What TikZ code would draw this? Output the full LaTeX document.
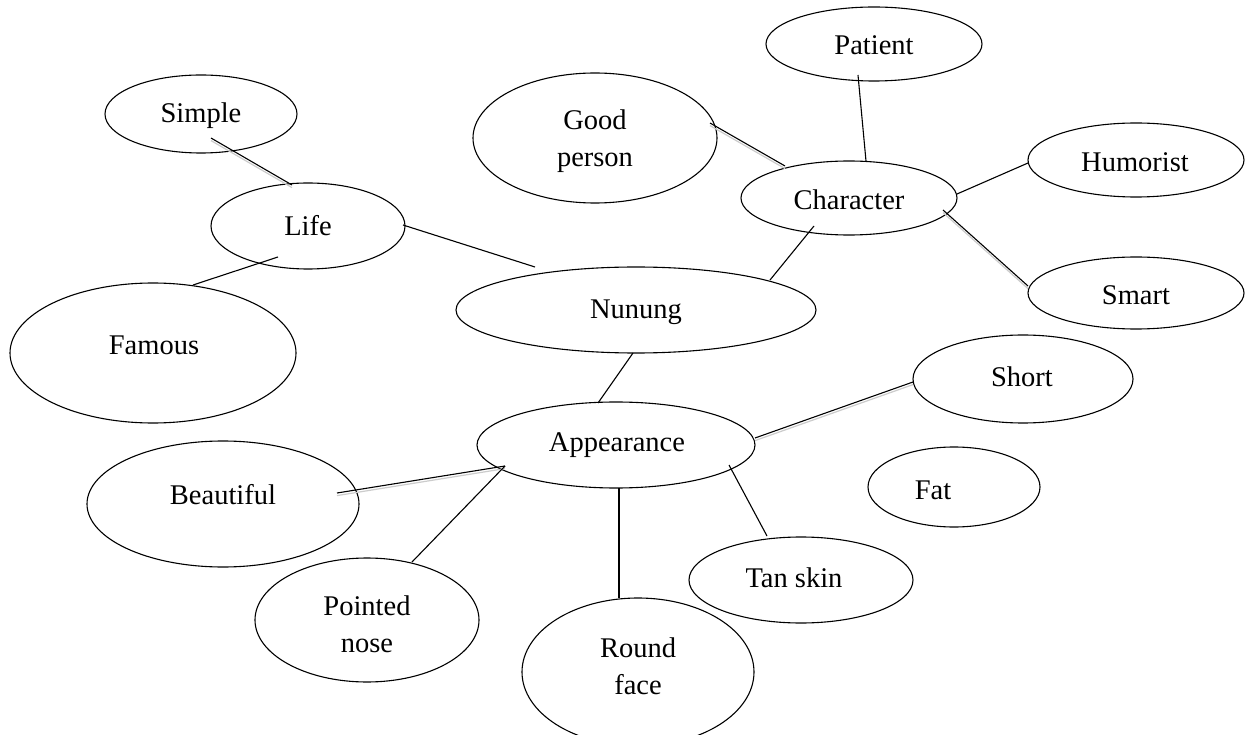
\documentclass[tikz,border=0pt]{standalone}
\usepackage{fontspec}
\setmainfont{Liberation Serif}
\usetikzlibrary{shapes.geometric,calc}
\tikzset{
  bub/.style 2 args={draw, ellipse, line width=1.1pt, minimum width=#1, minimum height=#2, inner sep=0pt},
  txt/.style={font=\fontsize{28.5}{37}\selectfont, align=center, inner sep=0pt},
  link/.style={draw, line width=1.1pt},
  shadowed/.style={link, preaction={draw=gray!40, line width=1.2pt, transform canvas={yshift=-2.6pt}}}
}
\begin{document}
\begin{tikzpicture}[x=1pt, y=-1pt]
\fill[white] (0,0) rectangle (1259,735);
\useasboundingbox (0,0) rectangle (1259,735);

% bubbles
\node[bub={192pt}{78pt}]  (simple)     at (201,114) {};
\node[bub={194pt}{86pt}]  (life)       at (308,226) {};
\node[bub={286pt}{140pt}] (famous)     at (153,353) {};
\node[bub={244pt}{130pt}] (good)       at (595,138) {};
\node[bub={216pt}{74pt}]  (patient)    at (874,44) {};
\node[bub={216pt}{74pt}]  (character)  at (849,198) {};
\node[bub={216pt}{74pt}]  (humorist)   at (1136,160) {};
\node[bub={216pt}{72pt}]  (smart)      at (1136,293) {};
\node[bub={360pt}{86pt}]  (nunung)     at (636,310) {};
\node[bub={220pt}{88pt}]  (short)      at (1023,379) {};
\node[bub={278pt}{86pt}]  (appearance) at (616,445) {};
\node[bub={172pt}{80pt}]  (fat)        at (954,487) {};
\node[bub={272pt}{126pt}] (beautiful)  at (223,504) {};
\node[bub={224pt}{86pt}]  (tan)        at (801,580) {};
\node[bub={224pt}{124pt}] (pointed)    at (367,620) {};
\node[bub={232pt}{148pt}] (round)      at (638,672) {};

% labels
\node[txt] (simple-t)     at (201,116) {Simple};
\node[txt] (life-t)       at (308,226) {Life};
\node[txt] (famous-t)     at (154,345) {Famous};
\node[txt] (good-t)       at (595,141) {Good\\person};
\node[txt] (patient-t)    at (874,45)  {Patient};
\node[txt] (character-t)  at (849,200) {Character};
\node[txt] (humorist-t)   at (1135,162) {Humorist};
\node[txt] (smart-t)      at (1136,295) {Smart};
\node[txt] (nunung-t)     at (636,312) {Nunung};
\node[txt] (short-t)      at (1022,377) {Short};
\node[txt] (appearance-t) at (617,445) {Appearance};
\node[txt] (fat-t)        at (933,490) {Fat};
\node[txt] (beautiful-t)  at (223,495) {Beautiful};
\node[txt] (tan-t)        at (794,578) {Tan skin};
\node[txt] (pointed-t)    at (367,624) {Pointed\\nose};
\node[txt] (round-t)      at (638,666) {Round\\face};

% connectors
\draw[shadowed] ($(simple)+(10,24)$) -- ($(life)+(-16,-41)$);
\draw[link] ($(life)+(95,-1)$) -- ($(nunung)+(-101,-43)$);
\draw[link] ($(famous)+(40,-68)$) -- ($(life)+(-30,31)$);
\draw[shadowed] ($(good)+(115,-15)$) -- ($(character)+(-64,-32)$);
\draw[link] ($(patient)+(-16,31)$) -- ($(character)+(17,-37)$);
\draw[link] ($(character)+(108,-4)$) -- ($(humorist)+(-108,3)$);
\draw[shadowed] ($(character)+(94,12)$) -- ($(smart)+(-108,-7)$);
\draw[link] ($(character)+(-35,28)$) -- ($(nunung)+(134,-30)$);
\draw[link] ($(nunung)+(-3,43)$) -- ($(appearance)+(-18,-42)$);
\draw[shadowed] ($(short)+(-110,3)$) -- ($(appearance)+(139,-7)$);
\draw[shadowed] ($(beautiful)+(114,-11)$) -- ($(appearance)+(-111,21)$);
\draw[link] ($(pointed)+(45,-58)$) -- ($(appearance)+(-111,21)$);
\draw[link] ($(round)+(-19,-74)$) -- ($(appearance)+(3,43)$);
\draw[link] ($(tan)+(-34,-44)$) -- ($(appearance)+(113,20)$);
\end{tikzpicture}
\end{document}
